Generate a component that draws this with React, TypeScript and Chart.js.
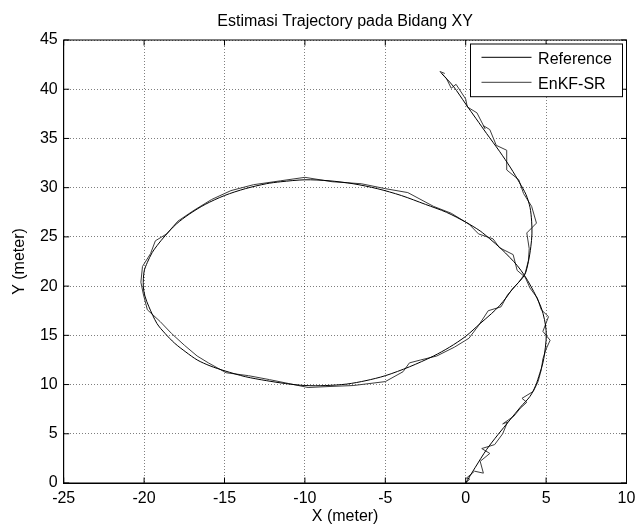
import React, { useEffect, useRef } from "react";
import { Chart, registerables } from "chart.js";

Chart.register(...registerables);

// ---- data ----
const refX = [
  0, 0.6, 1.3, 2.0, 2.75, 3.4, 4.0, 4.35, 4.6, 4.8, 4.9, 5.0, 5.0, 4.9, 4.7, 4.4, 4.05, 3.65,
  3.2, 2.75, 2.2, 1.5, 0.9, 0, -1.2, -2.5, -4, -5.5, -7, -8.5, -10, -11.5, -12.4, -13.7, -15,
  -16.2, -17.2, -18, -18.7, -19.2, -19.5, -19.8, -20.0, -20.05, -19.95, -19.7, -19.2, -18.7,
  -18.1, -17.4, -16.7, -15.9, -15, -13.7, -12.4, -11.2, -10, -8.7, -7.4, -6.2, -5, -3.5, -2,
  -1, 0, 0.9, 1.6, 2.1, 2.55, 2.9, 3.65, 3.9, 4.05, 4.12, 4.1, 4.0, 3.75, 3.35, 2.8, 2.1, 1.3,
  0.65, 0, -0.77, -1.5,
];
const refY = [
  0, 1.6, 3.4, 4.9, 6.4, 7.7, 8.8, 9.9, 11.1, 12.2, 13.1, 14.5, 15.5, 16.6, 17.8, 18.9, 20.0, 21.1,
  22.1, 22.9, 23.8, 24.8, 25.6, 26.5, 27.5, 28.3, 29.2, 29.9, 30.4, 30.7, 30.8, 30.6, 30.4, 29.9, 29.2,
  28.3, 27.3, 26.3, 25.1, 24.1, 23.4, 22.4, 21.5, 20.0, 19.0, 17.9, 16.2, 15.2,
  14.2, 13.3, 12.5, 11.9, 11.4, 10.8, 10.4, 10.1, 9.9, 9.9, 10.05, 10.4, 10.9, 11.8, 12.9,
  13.8, 14.9, 16.2, 17.2, 18.0, 18.9, 19.7, 21.1, 22.5, 24.0, 25.3, 26.6, 28.0, 29.3, 30.5, 32.0, 33.7, 35.5,
  37.0, 38.5, 40.3, 41.6,
];
const estX = [
  0.0, 0.25, 0.05, 0.55, 1.1, 0.9, 1.5, 1.0, 1.8, 2.3, 2.6, 2.3, 3.0, 3.4, 3.8, 3.5, 4.2, 4.5,
  4.7, 4.8, 5.0, 5.25, 4.8, 5.15, 4.7, 4.45, 4.0, 3.7, 3.2, 2.95, 2.1, 1.7, 0.8, 0.2, -0.9,
  -2.0, -3.6, -5.0, -6.5, -8.3, -10.0, -11.5, -13.2, -14.6, -15.8, -16.9, -17.9, -18.6, -19.3,
  -19.6, -20.1, -20.2, -20.05, -19.8, -19.0, -18.3, -17.5, -16.7, -16.0, -14.9, -13.5, -12.2,
  -11.0, -9.8, -8.5, -7.0, -5.0, -3.9, -3.5, -2.8, -1.8, -0.7, 0.2, 0.8, 1.4, 2.2, 2.6, 3.3, 3.7,
  3.9, 3.95, 3.8, 4.4, 4.1, 3.6, 3.3, 2.55, 2.55, 1.9, 1.5, 1.1, 1.2, 0.7, 0.1, 0.0, -0.6,
  -0.9, -1.2, -1.6, -1.3,
];
const estY = [
  0.0, 0.4, 0.5, 1.2, 1.0, 2.2, 3.0, 3.5, 3.9, 5.0, 6.2, 6.0, 6.8, 7.6, 8.2, 8.6, 9.3, 10.3,
  11.5, 12.6, 13.6, 14.5, 15.4, 16.9, 17.6, 18.8, 19.8, 20.9, 21.6, 23.2, 23.9, 24.8, 25.3, 26.3, 27.4,
  28.1, 29.5, 29.9, 30.4, 30.6, 31.05, 30.7, 30.3, 29.7, 28.8, 27.7, 26.6, 25.3, 24.6,
  23.3, 22.0, 20.4, 19.2, 17.6, 16.4, 15.2, 14.0, 12.9, 12.2, 11.2, 10.9, 10.5,
  10.1, 9.7, 9.8, 9.9, 10.3, 11.3, 12.2, 12.5, 12.9, 13.8, 14.7, 16.0, 17.5, 17.9, 19.1, 20.4, 21.3,
  22.6, 23.8, 25.4, 26.4, 28.1, 29.4, 30.8, 31.8, 33.8, 34.3, 35.9, 36.3, 36.0, 37.6, 38.2, 39.0, 40.5,
  40.1, 41.1, 41.8, 41.6,
];
const seriesNames = ["Reference", "EnKF-SR"];
const xRange = [-25, 10];
const yRange = [0, 45];
const tickStep = 5;
const titleText = "Estimasi Trajectory pada Bidang XY";
const xLabel = "X (meter)";
const yLabel = "Y (meter)";

const FONT = "'Liberation Sans', Arial, Helvetica, sans-serif";
const refColor = "#000000";
const estColor = "#3c3c3c";

export default function App() {
  const canvasRef = useRef<HTMLCanvasElement>(null);

  useEffect(() => {
    const canvas = canvasRef.current;
    if (!canvas) return;
    const toPts = (xs: number[], ys: number[]) => xs.map((x, i) => ({ x, y: ys[i] }));

    const framePlugin = {
      id: "matlabFrame",
      afterDraw(chart: any) {
        const { ctx, chartArea: a, scales } = chart;
        ctx.save();
        ctx.strokeStyle = "#000";
        ctx.lineWidth = 1;
        ctx.setLineDash([]);
        ctx.strokeRect(a.left, a.top, a.right - a.left, a.bottom - a.top);
        const L = 5.5;
        ctx.beginPath();
        scales.x.ticks.forEach((t: any) => {
          const px = scales.x.getPixelForValue(t.value);
          ctx.moveTo(px, a.bottom);
          ctx.lineTo(px, a.bottom - L);
          ctx.moveTo(px, a.top);
          ctx.lineTo(px, a.top + L);
        });
        scales.y.ticks.forEach((t: any) => {
          const py = scales.y.getPixelForValue(t.value);
          ctx.moveTo(a.left, py);
          ctx.lineTo(a.left + L, py);
          ctx.moveTo(a.right, py);
          ctx.lineTo(a.right - L, py);
        });
        ctx.stroke();

        // legend box (MATLAB style, top-right inside axes)
        const bw = 152;
        const bh = 52.7;
        const bx = a.right - 4 - bw;
        const by = a.top + 4;
        ctx.fillStyle = "#fff";
        ctx.fillRect(bx, by, bw, bh);
        ctx.strokeStyle = "#000";
        ctx.strokeRect(bx, by, bw, bh);
        const rows = [
          { name: seriesNames[0], color: refColor, y: by + 13.3 },
          { name: seriesNames[1], color: estColor, y: by + 38.3 },
        ];
        ctx.font = `16px ${FONT}`;
        ctx.textBaseline = "middle";
        ctx.textAlign = "left";
        rows.forEach((r) => {
          ctx.beginPath();
          ctx.strokeStyle = r.color;
          ctx.moveTo(bx + 11, r.y);
          ctx.lineTo(bx + 61, r.y);
          ctx.stroke();
          ctx.fillStyle = "#000";
          ctx.fillText(r.name, bx + 67.6, r.y + 2.5);
        });
        ctx.restore();
      },
    };

    const chart = new Chart(canvas, {
      type: "scatter",
      data: {
        datasets: [
          {
            label: seriesNames[0],
            data: toPts(refX, refY),
            showLine: true,
            borderColor: refColor,
            borderWidth: 1,
            pointRadius: 0,
            tension: 0.3,
            fill: false,
          },
          {
            label: seriesNames[1],
            data: toPts(estX, estY),
            showLine: true,
            borderColor: estColor,
            borderWidth: 1,
            pointRadius: 0,
            tension: 0,
            fill: false,
          },
        ],
      },
      options: {
        responsive: false,
        animation: false,
        layout: { padding: { left: 0, right: 10.5, top: 0, bottom: 0 } },
        plugins: {
          legend: { display: false },
          tooltip: { enabled: false },
          title: {
            display: true,
            text: titleText,
            fullSize: false,
            color: "#000",
            font: { family: FONT, size: 16, weight: "normal" },
            padding: { top: 12, bottom: 8.8 },
          },
        },
        scales: {
          x: {
            type: "linear",
            min: xRange[0],
            max: xRange[1],
            ticks: {
              stepSize: tickStep,
              color: "#000",
              font: { family: FONT, size: 16 },
              padding: 6,
              maxRotation: 0,
              autoSkip: false,
            },
            grid: { color: "rgba(0,0,0,0.5)", drawTicks: false, lineWidth: 1 },
            border: { display: true, color: "#000", width: 1, dash: [1, 2] },
            title: {
              display: true,
              text: xLabel,
              color: "#000",
              font: { family: FONT, size: 16 },
              padding: { top: 0, bottom: 4.4 },
            },
            afterFit: (s: any) => {
              s.height = 48;
              s.paddingLeft = 0;
              s.paddingRight = 0;
            },
          },
          y: {
            type: "linear",
            min: yRange[0],
            max: yRange[1],
            ticks: {
              stepSize: tickStep,
              color: "#000",
              font: { family: FONT, size: 16 },
              padding: 6,
              autoSkip: false,
            },
            grid: { color: "rgba(0,0,0,0.5)", drawTicks: false, lineWidth: 1 },
            border: { display: true, color: "#000", width: 1, dash: [1, 2] },
            title: {
              display: true,
              text: yLabel,
              color: "#000",
              font: { family: FONT, size: 16 },
              padding: { top: 10.4, bottom: 0 },
            },
            afterFit: (s: any) => {
              s.width = 63.7;
              s.paddingTop = 0;
              s.paddingBottom = 0;
            },
          },
        },
      },
      plugins: [framePlugin],
    } as any);

    return () => chart.destroy();
  }, []);

  return (
    <div style={{ position: "absolute", left: 0, top: 0, width: 637, height: 531, background: "#fff" }}>
      <canvas ref={canvasRef} width={637} height={531} style={{ display: "block" }} />
    </div>
  );
}
